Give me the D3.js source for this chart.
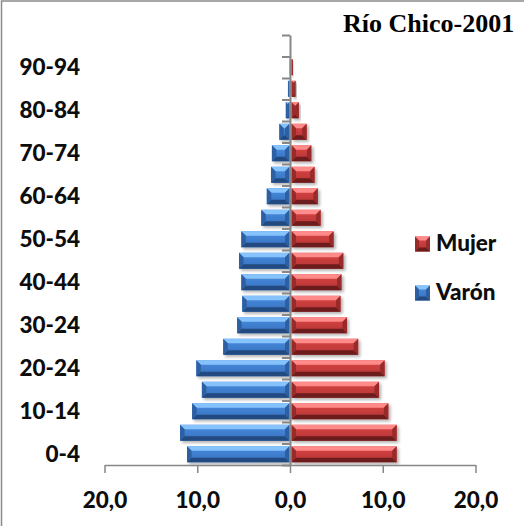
<!DOCTYPE html>
<html><head><meta charset="utf-8">
<script src="https://cdn.jsdelivr.net/npm/d3@7"></script>
<style>body{margin:0;background:#fff}svg{display:block}</style>
</head><body><svg id="c" width="524" height="526"></svg>
<script>
const title = "Río Chico-2001";
const ageGroups = ["0-4","5-9","10-14","15-19","20-24","25-29","30-24","35-39","40-44","45-49","50-54","55-59","60-64","65-69","70-74","75-79","80-84","85-89","90-94","95-99"];
const shownLabels = ["0-4","10-14","20-24","30-24","40-44","50-54","60-64","70-74","80-84","90-94"];
const varon = [11.1,11.85,10.55,9.5,10.1,7.2,5.7,5.15,5.25,5.5,5.25,3.1,2.5,2.05,1.95,1.15,0.45,0.22,0.08,0];
const mujer = [11.5,11.5,10.6,9.6,10.2,7.35,6.15,5.45,5.55,5.75,4.7,3.3,3.0,2.65,2.3,1.8,0.95,0.6,0.32,0];
const xTicks = [-20,-10,0,10,20];
const seriesNames = ["Mujer","Varón"];

const svg = d3.select("#c");
const font = "Lato, 'Open Sans', sans-serif";
const fw = 900;
const fs = 22.5;
const grey = "#878787";

const x = d3.scaleLinear().domain([-20,20]).range([104.5,475.5]);
const y = d3.scaleBand().domain(ageGroups).range([465,35]).paddingInner(0.26).paddingOuter(0.13);
const yb = d3.scaleLinear().domain([0, ageGroups.length]).range([465,35]);

// border
svg.append("path").attr("d","M1.5,526V1H524").attr("fill","none").attr("stroke","#8a8a8a").attr("stroke-width",1.5);

const defs = svg.append("defs");
const pal = {
  blue:{light:"#86c2fb", faceTop:"#4a8de0", faceBot:"#3670bd", dark:"#224a80", side:"#2d5fa2"},
  red:{light:"#ff8a8a", faceTop:"#da4646", faceBot:"#b43333", dark:"#6c1b1b", side:"#982b2b"}
};
Object.entries(pal).forEach(([k,c])=>{
  const g = defs.append("linearGradient").attr("id","g-"+k).attr("x1",0).attr("y1",0).attr("x2",0).attr("y2",1);
  g.append("stop").attr("offset","0%").attr("stop-color",c.faceTop);
  g.append("stop").attr("offset","100%").attr("stop-color",c.faceBot);
});
const sh = defs.append("filter").attr("id","sh").attr("x","-10%").attr("y","-30%").attr("width","130%").attr("height","180%");
sh.append("feGaussianBlur").attr("in","SourceAlpha").attr("stdDeviation",1.5);
sh.append("feOffset").attr("dx",1.5).attr("dy",2).attr("result","o");
sh.append("feComponentTransfer").append("feFuncA").attr("type","linear").attr("slope",0.3);
const fm = sh.append("feMerge"); fm.append("feMergeNode"); fm.append("feMergeNode").attr("in","SourceGraphic");

function bevelBar(g, x0, x1, y0, h, c, key){
  const w = x1 - x0; if (w <= 0.2) return;
  const b = Math.min(4.5, w/2, h/2);
  const grp = g.append("g").attr("filter","url(#sh)");
  grp.append("rect").attr("x",x0).attr("y",y0).attr("width",w).attr("height",h).attr("fill","url(#g-"+key+")");
  const poly = (pts, fill) => grp.append("polygon").attr("points", pts.map(p=>p.join(",")).join(" ")).attr("fill", fill);
  poly([[x0,y0],[x1,y0],[x1-b,y0+b],[x0+b,y0+b]], c.light);
  poly([[x0,y0+h],[x1,y0+h],[x1-b,y0+h-b],[x0+b,y0+h-b]], c.dark);
  poly([[x0,y0],[x0+b,y0+b],[x0+b,y0+h-b],[x0,y0+h]], c.side);
  poly([[x1,y0],[x1-b,y0+b],[x1-b,y0+h-b],[x1,y0+h]], c.side);
}

const bars = svg.append("g");
ageGroups.forEach((a,i)=>{
  bevelBar(bars, x(-varon[i]), x(0)-0.5, y(a), y.bandwidth(), pal.blue, "blue");
  bevelBar(bars, x(0)+1.5, x(mujer[i]), y(a), y.bandwidth(), pal.red, "red");
});

// vertical category axis at zero
const ay = svg.append("g").attr("transform",`translate(${x(0)},0)`)
  .call(d3.axisLeft(yb).tickValues(d3.range(ageGroups.length+1)).tickSize(8).tickSizeOuter(0).tickFormat(""));
ay.selectAll("path,line").attr("stroke",grey).attr("stroke-width",2);

// category labels
svg.append("g").selectAll("text").data(shownLabels).join("text")
  .attr("x",80).attr("y",d=>y(d)+y.bandwidth()/2).attr("dy","0.36em")
  .attr("text-anchor","end").attr("font-family",font).attr("font-weight",fw).attr("font-size",fs)
  .attr("fill","#0d0d0d").text(d=>d);

// x axis
const ax = svg.append("g").attr("transform","translate(0,465)")
  .call(d3.axisBottom(x).tickValues(xTicks).tickSize(8).tickSizeOuter(0)
    .tickFormat(d=>Math.abs(d).toFixed(1).replace(".",",")));
ax.selectAll("path,line").attr("stroke",grey).attr("stroke-width",1.5);
ax.selectAll("text").attr("y",43).attr("dy",0).attr("font-family",font).attr("font-weight",fw)
  .attr("font-size",fs).attr("fill","#0d0d0d");

// title
svg.append("text").attr("x",343).attr("y",32).attr("font-family","'Liberation Serif','Times New Roman',serif")
  .attr("font-weight","bold").attr("font-size",26).attr("fill","#000").text(title);

// legend
const legY = [236.5, 285.5];
const legKeys = ["red","blue"];
seriesNames.forEach((n,i)=>{
  const c = pal[legKeys[i]];
  const lx = 415, ly = legY[i], s = 15, b = 4;
  const g = svg.append("g");
  g.append("rect").attr("x",lx).attr("y",ly).attr("width",s).attr("height",s).attr("fill","url(#g-"+legKeys[i]+")");
  const poly = (pts, fill) => g.append("polygon").attr("points", pts.map(p=>p.join(",")).join(" ")).attr("fill", fill);
  poly([[lx,ly],[lx+s,ly],[lx+s-b,ly+b],[lx+b,ly+b]], c.light);
  poly([[lx,ly+s],[lx+s,ly+s],[lx+s-b,ly+s-b],[lx+b,ly+s-b]], c.dark);
  poly([[lx,ly],[lx+b,ly+b],[lx+b,ly+s-b],[lx,ly+s]], c.side);
  poly([[lx+s,ly],[lx+s-b,ly+b],[lx+s-b,ly+s-b],[lx+s,ly+s]], c.side);
  svg.append("text").attr("x",436).attr("y",ly+14.5).attr("font-family",font).attr("font-weight",fw)
    .attr("font-size",fs).attr("fill","#0d0d0d").text(n);
});
</script></body></html>
